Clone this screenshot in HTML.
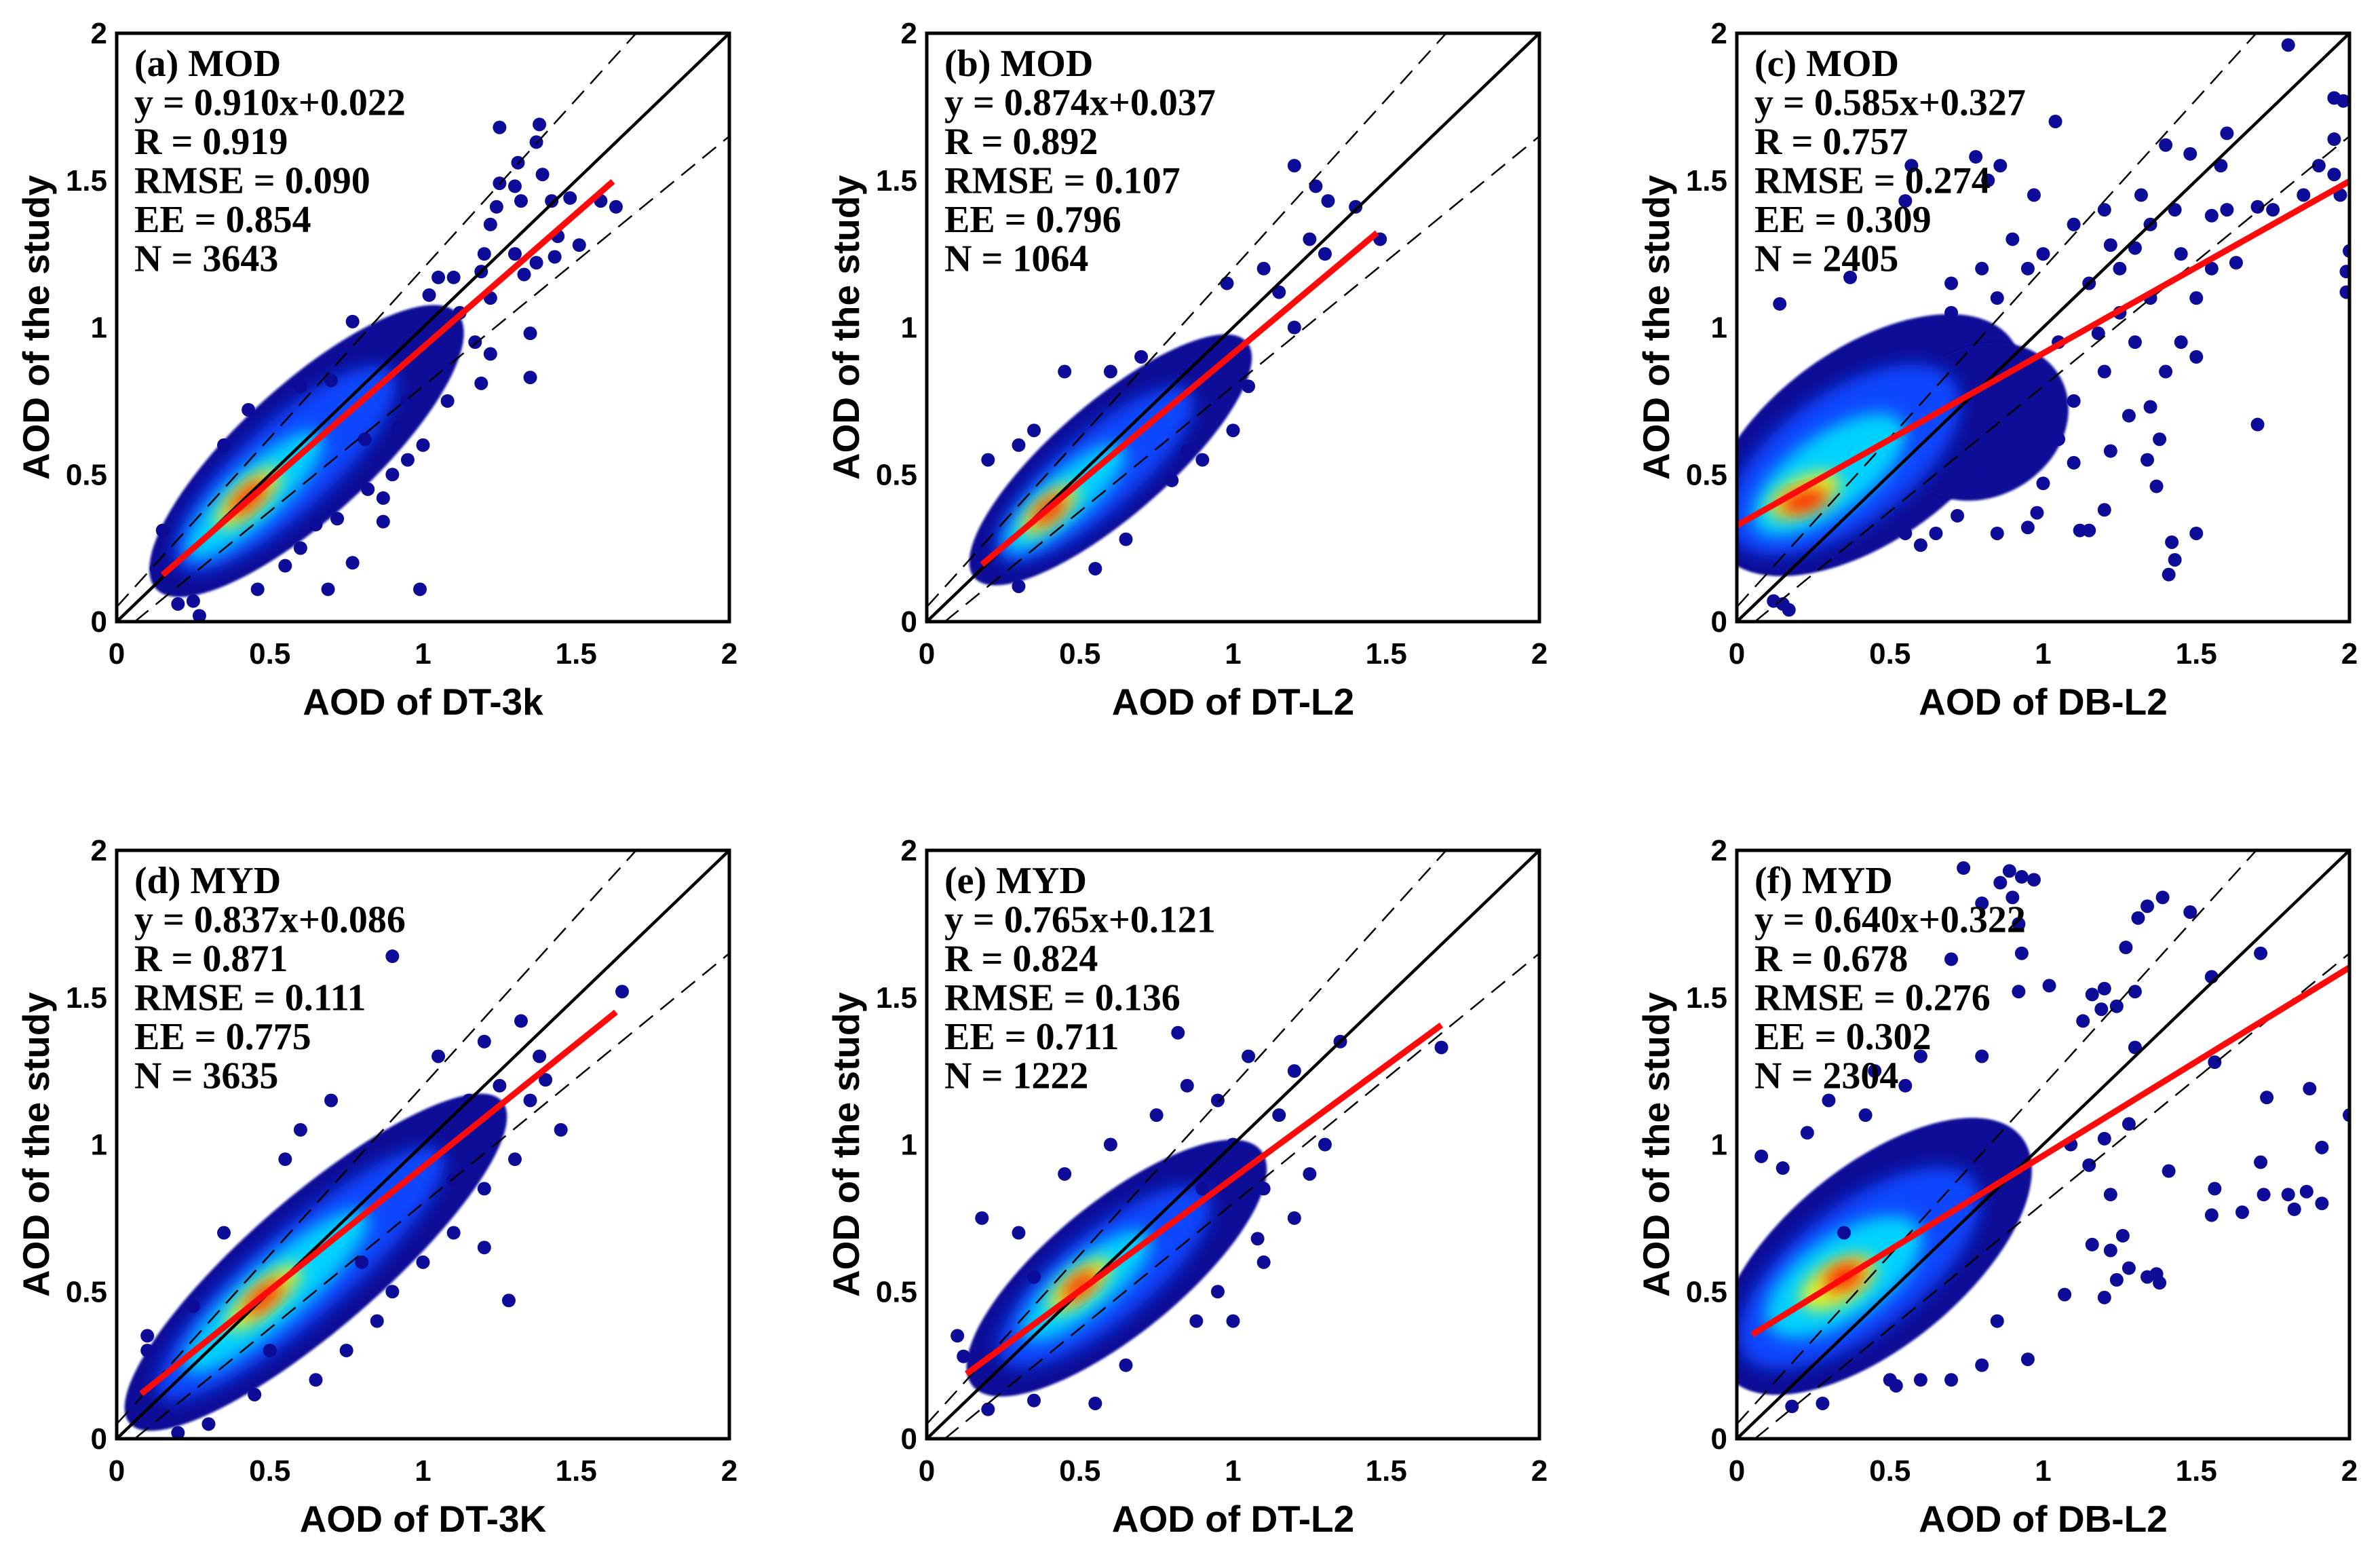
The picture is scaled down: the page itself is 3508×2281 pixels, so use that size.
<!DOCTYPE html>
<html><head><meta charset="utf-8"><style>
html,body{margin:0;padding:0;background:#fff;}
svg{display:block;}
</style></head><body>
<svg id="fig" width="3508" height="2281" viewBox="0 0 3508 2281" xmlns="http://www.w3.org/2000/svg">
<defs>
<filter id="soft" x="-50%" y="-50%" width="200%" height="200%"><feGaussianBlur stdDeviation="12"/></filter>
<filter id="soft2" x="-50%" y="-50%" width="200%" height="200%"><feGaussianBlur stdDeviation="1.5"/></filter>
</defs>
</svg>
<script>
const panelLabels = ["(a) MOD","(b) MOD","(c) MOD","(d) MYD","(e) MYD","(f) MYD"];
const equations = ["y = 0.910x+0.022","y = 0.874x+0.037","y = 0.585x+0.327","y = 0.837x+0.086","y = 0.765x+0.121","y = 0.640x+0.322"];
const rValues = ["0.919","0.892","0.757","0.871","0.824","0.678"];
const rmseValues = ["0.090","0.107","0.274","0.111","0.136","0.276"];
const eeValues = ["0.854","0.796","0.309","0.775","0.711","0.302"];
const nValues = ["3643","1064","2405","3635","1222","2304"];
const xTitles = ["AOD of DT-3k","AOD of DT-L2","AOD of DB-L2","AOD of DT-3K","AOD of DT-L2","AOD of DB-L2"];
const yTitle = "AOD of the study";
const tickValues = [0,0.5,1,1.5,2];
const tickLabels = ["0","0.5","1","1.5","2"];
const fitSlopes = [0.910,0.874,0.585,0.837,0.765,0.640];
const fitIntercepts = [0.022,0.037,0.327,0.086,0.121,0.322];
const fitStart = [0.15,0.18,0.0,0.08,0.13,0.05];
const fitEnd = [1.62,1.47,2.0,1.63,1.68,2.0];
// density blobs: [cx, cy, halfLength, halfWidth, slope, level]
const blobsA = [[0.62,0.58,0.68,0.22,0.95,0],[0.55,0.52,0.48,0.15,0.95,1],[0.45,0.43,0.3,0.09,0.95,2],[0.43,0.42,0.14,0.05,0.95,3],[0.43,0.42,0.08,0.03,0.95,4]];
const blobsB = [[0.6,0.55,0.6,0.19,0.9,0],[0.55,0.5,0.42,0.13,0.9,1],[0.45,0.42,0.26,0.08,0.9,2],[0.4,0.38,0.12,0.045,0.9,3],[0.4,0.38,0.07,0.03,0.9,4]];
const blobsC = [[0.42,0.6,0.6,0.32,0.75,0],[0.8,0.68,0.3,0.25,0.6,0],[0.35,0.55,0.45,0.22,0.75,1],[0.3,0.5,0.3,0.13,0.75,2],[0.22,0.43,0.13,0.06,0.5,3],[0.22,0.41,0.08,0.035,0.3,4]];
const blobsD = [[0.65,0.6,0.82,0.22,0.9,0],[0.6,0.56,0.62,0.15,0.9,1],[0.52,0.5,0.4,0.1,0.9,2],[0.48,0.48,0.16,0.05,0.9,3],[0.48,0.48,0.08,0.03,0.9,4]];
const blobsE = [[0.62,0.58,0.62,0.22,0.85,0],[0.58,0.55,0.44,0.15,0.85,1],[0.52,0.52,0.27,0.09,0.85,2],[0.5,0.52,0.13,0.05,0.85,3],[0.5,0.52,0.07,0.03,0.85,4]];
const blobsF = [[0.45,0.62,0.63,0.3,0.85,0],[0.4,0.58,0.48,0.21,0.8,1],[0.35,0.55,0.3,0.14,0.7,2],[0.33,0.53,0.14,0.07,0.6,3],[0.35,0.55,0.07,0.04,0.5,4]];
const pointsAx = [1.25,1.38,1.37,1.31,1.39,1.25,1.3,1.32,1.42,1.48,1.58,1.63,1.24,1.22,1.44,1.51,1.2,1.3,1.37,1.43,1.33,1.19,1.35,1.35,1.19,1.22,1.17,0.77,0.99,0.69,0.77,0.27,0.87,0.87,0.95,0.81,0.43,0.15,0.13,1.05,1.1,1.02,1.12,1.22,0.55,0.6,0.46,0.92,0.95,1.08,0.72,0.65,0.2,0.25,0.35,0.6,0.7,1.0,0.9,0.82];
const pointsAy = [1.68,1.69,1.63,1.56,1.52,1.49,1.48,1.43,1.43,1.44,1.43,1.41,1.41,1.35,1.31,1.28,1.25,1.25,1.22,1.24,1.18,1.19,0.98,0.83,0.81,0.91,0.95,1.02,0.11,0.11,0.2,0.02,0.34,0.42,0.55,0.62,0.72,0.31,0.18,1.17,1.17,1.11,1.05,1.1,0.19,0.25,0.11,0.66,0.75,0.75,0.35,0.33,0.06,0.07,0.6,0.8,0.82,0.6,0.5,0.45];
const pointsBx = [1.2,1.27,1.31,1.4,1.48,1.25,1.1,1.15,0.98,1.3,0.2,0.3,0.45,0.6,0.9,1.0,0.55,0.22,0.7,1.05,1.2,0.3,0.35,0.8,0.85,0.65];
const pointsBy = [1.55,1.48,1.43,1.41,1.3,1.3,1.2,1.12,1.15,1.25,0.55,0.6,0.85,0.85,0.55,0.65,0.18,0.15,0.9,0.8,1.0,0.12,0.65,0.48,0.58,0.28];
const pointsCx = [1.8,1.95,1.98,1.95,1.95,1.9,1.97,2.0,1.99,1.99,1.04,1.6,1.48,1.4,0.78,0.86,0.82,0.57,0.55,0.37,0.14,0.97,1.32,1.58,1.43,1.7,1.75,1.85,1.63,1.22,1.3,1.55,1.5,1.45,1.5,1.7,1.35,1.38,1.34,1.37,1.5,1.42,1.43,1.41,1.12,1.15,1.2,0.98,1.22,1.1,0.74,0.6,0.55,0.65,0.72,0.85,0.95,1.0,0.12,0.17,0.15,1.25,1.3,1.2,1.1,1.05,1.15,1.25,1.35,1.1,1.0,0.9,0.95,1.18,1.4,1.28,1.05,0.88,0.8,1.45,1.55,1.35,1.6,1.2,0.85,0.8,0.7,0.7,0.62];
const pointsCy = [1.96,1.78,1.77,1.64,1.52,1.55,1.45,1.26,1.19,1.12,1.7,1.66,1.59,1.62,1.58,1.55,1.5,1.55,1.43,1.17,1.08,1.45,1.45,1.55,1.4,1.41,1.4,1.45,1.22,1.28,1.27,1.2,1.1,0.95,0.9,0.67,0.73,0.62,0.55,0.46,0.3,0.27,0.21,0.16,0.31,0.31,0.38,0.37,0.58,0.54,0.46,0.26,0.3,0.3,0.36,0.3,0.32,0.47,0.07,0.04,0.06,1.05,0.95,0.85,0.75,0.95,1.15,1.2,1.1,1.35,1.25,1.3,1.2,0.98,0.85,0.7,0.62,0.62,0.5,1.25,1.38,1.35,1.4,1.4,1.1,1.2,1.15,1.05,1.0];
const pointsDx = [0.9,1.32,1.65,1.38,1.4,1.25,1.15,1.45,1.3,1.28,1.2,1.1,0.8,0.75,0.65,0.45,0.2,0.3,0.1,0.1,0.35,0.55,0.7,0.6,1.05,1.2,1.35,1.0,0.9,1.1,1.2,0.15,0.25,0.5,0.85];
const pointsDy = [1.64,1.42,1.52,1.3,1.22,1.2,1.15,1.05,0.95,0.47,0.65,0.7,0.6,0.3,0.2,0.15,0.02,0.05,0.35,0.3,0.7,0.95,1.15,1.05,1.3,1.35,1.15,0.6,0.5,0.88,0.85,0.08,0.45,0.3,0.4];
const pointsEx = [0.82,1.05,1.2,1.35,1.15,1.3,1.25,1.68,1.08,1.1,1.0,0.95,0.88,0.65,0.55,0.35,0.2,0.18,0.1,0.12,0.3,0.45,0.6,0.75,0.85,0.95,1.0,1.1,0.9,1.2,0.35];
const pointsEy = [1.38,1.3,1.25,1.35,1.1,1.0,0.9,1.33,0.68,0.6,0.4,0.5,0.4,0.25,0.12,0.13,0.1,0.75,0.35,0.28,0.7,0.9,1.0,1.1,1.2,1.15,1.0,0.85,0.85,0.75,0.55];
const pointsFx = [0.74,0.89,0.93,0.97,0.86,0.9,0.8,1.34,1.39,1.31,1.48,1.27,1.71,0.7,0.93,0.92,1.55,1.2,1.3,1.16,0.92,1.02,1.19,1.24,1.13,1.56,1.3,1.73,1.87,2.0,1.91,1.71,1.41,1.72,1.8,1.86,1.91,1.56,1.55,1.65,1.82,1.37,1.38,1.34,1.28,1.24,1.2,1.07,1.22,1.16,1.26,1.22,1.15,1.09,1.2,1.28,0.08,0.15,0.23,0.3,0.45,0.55,0.42,0.6,0.8,0.85,0.8,0.95,0.7,0.5,0.52,0.6,0.28,0.18,0.35];
const pointsFy = [1.94,1.93,1.91,1.9,1.89,1.84,1.82,1.81,1.84,1.77,1.79,1.67,1.65,1.63,1.65,1.75,1.57,1.53,1.52,1.51,1.52,1.54,1.46,1.47,1.42,1.28,1.33,1.16,1.19,1.1,0.99,0.94,0.91,0.83,0.83,0.84,0.8,0.85,0.76,0.77,0.78,0.56,0.53,0.55,0.58,0.54,0.48,0.49,0.64,0.66,0.69,0.83,0.93,1.0,1.02,1.07,0.96,0.92,1.04,1.15,1.25,1.2,1.1,1.3,1.3,0.4,0.25,0.27,0.2,0.2,0.18,0.2,0.12,0.11,0.7];

const allBlobs = [blobsA,blobsB,blobsC,blobsD,blobsE,blobsF];
const allPx = [pointsAx,pointsBx,pointsCx,pointsDx,pointsEx,pointsFx];
const allPy = [pointsAy,pointsBy,pointsCy,pointsDy,pointsEy,pointsFy];
const levelColors = ["#0c0c98","#0a46ff","#00d2ff","#e6f226","#ff2400"];

const NS = "http://www.w3.org/2000/svg";
const svg = document.getElementById("fig");
function mk(tag, attrs, parent){
  const e = document.createElementNS(NS, tag);
  for (const k in attrs) e.setAttribute(k, attrs[k]);
  (parent||svg).appendChild(e);
  return e;
}
const lefts = [172,1366,2560];
const tops = [49,1253];
const W = 903, H = 867;
const XMAX = 2;

for (let p = 0; p < 6; p++) {
  const L = lefts[p%3], T = tops[Math.floor(p/3)], B = T + H;
  const sx = v => L + v / XMAX * W;
  const sy = v => B - v / XMAX * H;
  const g = mk("g", {});
  
  
  const clip = mk("clipPath", {id: "clip"+p}, svg.querySelector("defs"));
  mk("rect", {x:L, y:T, width:W, height:H}, clip);
  const plot = mk("g", {"clip-path":"url(#clip"+p+")"}, g);
  
  
  allBlobs[p].forEach(b => {
    const [cx, cy, hl, hw, slope, lvl] = b;
    const ang = -Math.atan(slope * H / W) * 180 / Math.PI;
    const rx = hl / XMAX * (W + H) / 2, ry = hw / XMAX * (W + H) / 2;
    const e = mk("ellipse", {cx: sx(cx), cy: sy(cy), rx: rx, ry: ry, fill: levelColors[lvl],
      transform: "rotate(" + ang + " " + sx(cx) + " " + sy(cy) + ")",
      filter: lvl === 0 ? "url(#soft2)" : "url(#soft)"}, plot);
    
    
  });
  const xs = allPx[p], ys = allPy[p];
  for (let i = 0; i < xs.length; i++) {
    const c = mk("circle", {cx: sx(xs[i]), cy: sy(ys[i]), r: 10, fill: levelColors[0]}, plot);
    
    
  }
  const up = mk("line", {x1: sx(0), y1: sy(0.05), x2: sx((2-0.05)/1.15), y2: sy(2), stroke:"#000", "stroke-width":2.5, "stroke-dasharray":"26 14"}, plot);
  
  
  const lo = mk("line", {x1: sx(0.05/0.85), y1: sy(0), x2: sx(2), y2: sy(0.85*2-0.05), stroke:"#000", "stroke-width":2.5, "stroke-dasharray":"26 14"}, plot);
  
  
  const one = mk("line", {x1: sx(0), y1: sy(0), x2: sx(2), y2: sy(2), stroke:"#000", "stroke-width":4.5}, plot);
  
  
  const fit = mk("line", {x1: sx(fitStart[p]), y1: sy(fitSlopes[p]*fitStart[p]+fitIntercepts[p]), x2: sx(fitEnd[p]), y2: sy(fitSlopes[p]*fitEnd[p]+fitIntercepts[p]), stroke:"#ff0a0a", "stroke-width":9}, plot);
  
  
  const box = mk("rect", {x:L, y:T, width:W, height:H, fill:"none", stroke:"#000", "stroke-width":5}, g);
  
  
  tickValues.forEach((v, i) => {
    const tx = mk("text", {x: sx(v), y: B + 62, "text-anchor":"middle", "font-family":"'Liberation Sans',sans-serif", "font-weight":"bold", "font-size":44, fill:"#000"}, g);
    tx.textContent = tickLabels[i];
    
    
    const ty = mk("text", {x: L - 14, y: sy(v) + 15, "text-anchor":"end", "font-family":"'Liberation Sans',sans-serif", "font-weight":"bold", "font-size":44, fill:"#000"}, g);
    ty.textContent = tickLabels[i];
    
    
  });
  const xt = mk("text", {x: L + W/2, y: B + 137, "text-anchor":"middle", "font-family":"'Liberation Sans',sans-serif", "font-weight":"bold", "font-size":55, fill:"#000"}, g);
  xt.textContent = xTitles[p];
  
  
  const yt = mk("text", {x: 0, y: 0, "text-anchor":"middle", "font-family":"'Liberation Sans',sans-serif", "font-weight":"bold", "font-size":55, fill:"#000",
    transform: "translate(" + (L - 100) + "," + (T + H/2) + ") rotate(-90)"}, g);
  yt.textContent = yTitle;
  
  
  const lines = [panelLabels[p], equations[p], "R = " + rValues[p], "RMSE = " + rmseValues[p], "EE = " + eeValues[p], "N = " + nValues[p]];
  lines.forEach((s, i) => {
    const t = mk("text", {x: L + 26, y: T + 63 + i * 57.5, "font-family":"'Liberation Serif',serif", "font-weight":"bold", "font-size":56, fill:"#000"}, g);
    t.textContent = s;
    
    
  });
}
</script>
</body></html>
